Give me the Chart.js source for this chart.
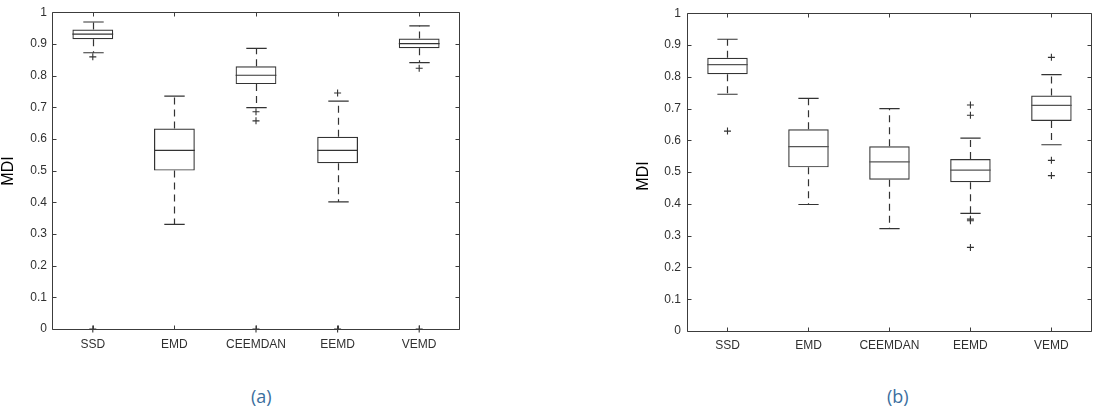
<!DOCTYPE html>
<html>
<head>
<meta charset="utf-8">
<script src="https://cdn.jsdelivr.net/npm/chart.js@4.4.1/dist/chart.umd.min.js"></script>
<style>
  body { margin: 0; background: #fff; width: 1097px; height: 414px; position: relative; overflow: hidden; }
  canvas { position: absolute; top: 0; }
  #chartA { left: 0; }
  #chartB { left: 600px; }
  .cap { position: absolute; top: 384px; font: 18px "Open Sans", sans-serif; color: #3b6e9e; }
</style>
</head>
<body>
<canvas id="chartA" width="470" height="360"></canvas>
<canvas id="chartB" width="497" height="360"></canvas>
<div class="cap" style="left:251px">(a)</div>
<div class="cap" style="left:887px">(b)</div>
<script>
const categories = ['SSD', 'EMD', 'CEEMDAN', 'EEMD', 'VEMD'];

// panel (a)
const aLow = [0.872, 0.330, 0.699, 0.401, 0.841];
const aQ1 = [0.915, 0.500, 0.773, 0.523, 0.886];
const aMed = [0.931, 0.564, 0.801, 0.564, 0.901];
const aQ3 = [0.945, 0.633, 0.829, 0.607, 0.917];
const aHigh = [0.969, 0.735, 0.886, 0.719, 0.957];
const aOutliers = [
  ['SSD', 0.859], ['SSD', 0],
  ['CEEMDAN', 0.686], ['CEEMDAN', 0.657], ['CEEMDAN', 0],
  ['EEMD', 0.745], ['EEMD', 0],
  ['VEMD', 0.823], ['VEMD', 0]
];

// panel (b)
const bLow = [0.745, 0.398, 0.322, 0.370, 0.586];
const bQ1 = [0.808, 0.515, 0.476, 0.468, 0.661];
const bMed = [0.838, 0.580, 0.532, 0.506, 0.710];
const bQ3 = [0.860, 0.635, 0.581, 0.541, 0.741];
const bHigh = [0.918, 0.732, 0.700, 0.607, 0.807];
const bOutliers = [
  ['SSD', 0.629],
  ['EEMD', 0.711], ['EEMD', 0.679], ['EEMD', 0.352], ['EEMD', 0.347], ['EEMD', 0.263],
  ['VEMD', 0.861], ['VEMD', 0.537], ['VEMD', 0.489]
];

const yTicks = [0, 0.1, 0.2, 0.3, 0.4, 0.5, 0.6, 0.7, 0.8, 0.9, 1];
const axisFont = { family: '"Liberation Sans", Arial, sans-serif', size: 12 };

// whiskers, medians, frame and inward ticks, all from the chart scales
const boxExtras = {
  id: 'boxExtras',
  afterDatasetsDraw(chart, args, opts) {
    const ctx = chart.ctx;
    const x = chart.scales.x, y = chart.scales.y;
    const bars = chart.getDatasetMeta(0).data;
    ctx.save();
    ctx.strokeStyle = '#333';
    ctx.lineWidth = 1.2;
    bars.forEach((bar, i) => {
      const cx = Math.round(bar.x) + 0.5;
      const half = bar.width / 2;
      const cap = bar.width / 4;
      const pLow = y.getPixelForValue(opts.low[i]);
      const pHigh = y.getPixelForValue(opts.high[i]);
      const pQ1 = y.getPixelForValue(opts.q1[i]);
      const pQ3 = y.getPixelForValue(opts.q3[i]);
      const pMed = y.getPixelForValue(opts.med[i]);
      ctx.setLineDash([7, 5]);
      ctx.beginPath();
      ctx.moveTo(cx, pQ3); ctx.lineTo(cx, pHigh);
      ctx.moveTo(cx, pQ1); ctx.lineTo(cx, pLow);
      ctx.stroke();
      ctx.setLineDash([]);
      ctx.beginPath();
      ctx.moveTo(cx - cap, pHigh); ctx.lineTo(cx + cap, pHigh);
      ctx.moveTo(cx - cap, pLow); ctx.lineTo(cx + cap, pLow);
      ctx.stroke();
      ctx.strokeStyle = opts.medColor;
      ctx.beginPath();
      ctx.moveTo(bar.x - half, pMed); ctx.lineTo(bar.x + half, pMed);
      ctx.stroke();
      ctx.strokeStyle = '#333';
    });

    const a = chart.chartArea;
    const L = Math.round(a.left) + 0.5, R = Math.round(a.right) - 0.5;
    const T = Math.round(a.top) + 0.5, B = Math.round(a.bottom) + 0.5;
    ctx.strokeStyle = '#3c3c3c';
    ctx.lineWidth = 1;
    ctx.beginPath();
    ctx.rect(L, T, R - L, B - T);
    y.ticks.forEach((t, i) => {
      const py = Math.round(y.getPixelForTick(i)) + 0.5;
      ctx.moveTo(L, py); ctx.lineTo(L + 4, py);
      ctx.moveTo(R, py); ctx.lineTo(R - 4, py);
    });
    x.ticks.forEach((t, i) => {
      const px = Math.round(x.getPixelForTick(i)) + 0.5;
      ctx.moveTo(px, B); ctx.lineTo(px, B - 4);
      ctx.moveTo(px, T); ctx.lineTo(px, T + 4);
    });
    ctx.stroke();

    ctx.fillStyle = '#000';
    ctx.font = '16px "Liberation Sans", Arial, sans-serif';
    ctx.textAlign = 'center';
    ctx.textBaseline = 'middle';
    ctx.translate(opts.titleX, opts.titleY);
    ctx.rotate(-Math.PI / 2);
    ctx.fillText('MDI', 0, 0);
    ctx.restore();
  }
};

function makeBox(id, low, q1, med, q3, high, outliers, geo) {
  new Chart(document.getElementById(id), {
    type: 'bar',
    data: {
      labels: categories,
      datasets: [{
        data: q1.map((v, i) => [v, q3[i]]),
        backgroundColor: 'rgba(0,0,0,0)',
        borderColor: '#333',
        borderWidth: 1.2,
        borderSkipped: false,
        barPercentage: 0.5,
        categoryPercentage: 1
      }, {
        type: 'scatter',
        data: outliers.map(o => ({ x: o[0], y: o[1] })),
        pointStyle: 'cross',
        pointRadius: 3.5,
        borderColor: '#333',
        borderWidth: 1.1,
        clip: false
      }]
    },
    options: {
      responsive: false,
      animation: false,
      devicePixelRatio: 1,
      layout: { padding: { top: geo.top, right: geo.right, left: 0, bottom: 0 } },
      plugins: {
        legend: { display: false },
        tooltip: { enabled: false },
        boxExtras: { low, q1, med, q3, high, medColor: geo.medColor, titleX: geo.titleX, titleY: geo.titleY }
      },
      scales: {
        x: {
          type: 'category',
          grid: { display: false, drawTicks: false },
          border: { display: false },
          ticks: { color: '#303030', font: axisFont, padding: geo.xPad, maxRotation: 0 },
          afterFit: s => { s.height = geo.xHeight; }
        },
        y: {
          min: 0, max: 1,
          grid: { display: false, drawTicks: false },
          border: { display: false },
          afterBuildTicks: s => { s.ticks = yTicks.map(v => ({ value: v })); },
          ticks: { color: '#303030', font: axisFont, padding: geo.yPad, callback: v => String(Math.round(v * 10) / 10) },
          afterFit: s => { s.width = geo.yWidth; }
        }
      }
    },
    plugins: [boxExtras]
  });
}

makeBox('chartA', aLow, aQ1, aMed, aQ3, aHigh, aOutliers,
  { top: 6, right: 10, xHeight: 31, yWidth: 52, xPad: 8, yPad: 5, titleX: 9, titleY: 171, medColor: '#333' });
makeBox('chartB', bLow, bQ1, bMed, bQ3, bHigh, bOutliers,
  { top: 7, right: 2, xHeight: 29, yWidth: 87, xPad: 7, yPad: 6, titleX: 44, titleY: 176, medColor: '#555' });
</script>
</body>
</html>
